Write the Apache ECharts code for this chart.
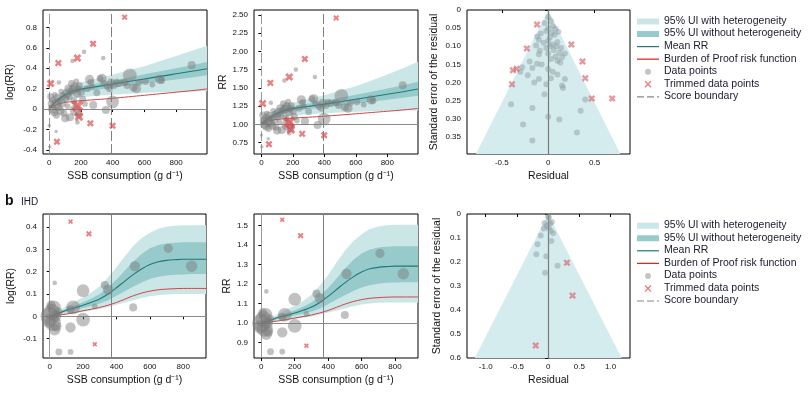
<!DOCTYPE html>
<html><head><meta charset="utf-8">
<script src="https://cdn.jsdelivr.net/npm/echarts@6/dist/echarts.min.js"></script>
<style>html,body{margin:0;padding:0;background:#fff}#c{width:809px;height:394px}</style>
</head><body><div id="c"></div><script>
const F = 'Liberation Sans, Arial, sans-serif';

// ---------- Row a (top) : curves in log(RR) ----------
const aCurveX   = [0, 10, 25, 50, 75, 100, 150, 200, 300, 400, 500, 600, 700, 800, 900, 995];
const aMean     = [0, 0.025, 0.05, 0.085, 0.115, 0.14, 0.175, 0.195, 0.22, 0.245, 0.27, 0.295, 0.32, 0.345, 0.37, 0.395];
const aBop      = [0, 0.012, 0.025, 0.045, 0.057, 0.065, 0.075, 0.082, 0.093, 0.105, 0.12, 0.135, 0.15, 0.165, 0.18, 0.197];
const aInnerLo  = [0, 0.02, 0.04, 0.07, 0.098, 0.12, 0.15, 0.17, 0.19, 0.21, 0.23, 0.25, 0.27, 0.29, 0.31, 0.33];
const aInnerHi  = [0, 0.03, 0.06, 0.10, 0.132, 0.16, 0.20, 0.22, 0.25, 0.28, 0.31, 0.34, 0.37, 0.40, 0.43, 0.46];
const aOuterLo  = [0, 0.012, 0.025, 0.045, 0.065, 0.08, 0.10, 0.115, 0.13, 0.14, 0.15, 0.16, 0.165, 0.17, 0.175, 0.175];
const aOuterHi  = [0, 0.04, 0.075, 0.125, 0.165, 0.2, 0.24, 0.26, 0.30, 0.335, 0.38, 0.42, 0.47, 0.52, 0.57, 0.62];
const aRefX = 390;
// data points: [SSB g/d, log(RR), weight]
const aPoints = [[0,-0.16,3],[3,-0.37,3],[43,-0.22,3],[8,0.12,6],[15,0.05,7],[20,0.0,8],[25,0.09,6],[30,-0.03,7],[35,0.14,5],[40,0.05,9],[45,-0.06,6],[50,0.11,7],[55,0.02,8],[60,0.26,4],[65,0.08,6],[70,-0.02,7],[75,0.17,5],[80,0.06,8],[88,0.13,6],[92,-0.04,6],[100,-0.09,7],[105,0.1,6],[110,0.15,8],[115,0.03,5],[120,0.2,7],[125,0.12,6],[130,-0.08,7],[135,0.17,6],[140,0.25,6],[146,0.47,4],[150,0.19,8],[155,0.08,6],[160,0.22,7],[165,-0.01,10],[170,0.27,5],[175,0.15,7],[177,-0.13,4],[180,0.2,6],[185,-0.05,7],[190,0.23,6],[200,0.17,7],[210,0.1,6],[219,0.56,4],[225,0.05,5],[240,0.2,6],[254,0.29,8],[262,0.26,6],[270,0.22,5],[277,0.04,7],[300,0.16,6],[320,0.3,6],[333,0.3,8],[340,0.5,4],[345,0.25,6],[357,-0.01,7],[365,0.22,6],[380,0.2,6],[390,0.26,7],[399,0.07,11],[410,0.23,6],[425,0.27,5],[440,0.25,6],[460,0.27,4],[475,0.26,6],[490,0.23,6],[508,0.33,12],[530,0.21,7],[550,0.2,8],[565,0.26,6],[607,0.27,6],[650,0.24,5],[696,0.29,8],[709,0.28,6],[898,0.43,7]];
const aTrimmed = [[8,0.25,8],[57,0.45,7],[177,0.50,8],[276,0.64,7],[475,0.90,6],[177,0.03,12],[187,-0.075,9],[259,-0.14,7],[399,-0.163,7],[48,-0.32,7]];
// funnel: [residual, standard error]
const aFunnel = [[0.0,0.02],[0.03,0.03],[-0.04,0.036],[0.05,0.045],[0.0,0.05],[0.08,0.052],[-0.02,0.058],[0.11,0.06],[0.04,0.062],[-0.08,0.065],[0.07,0.068],[-0.12,0.073],[0.02,0.075],[-0.1,0.082],[0.0,0.085],[0.1,0.088],[-0.05,0.09],[0.05,0.095],[-0.13,0.098],[0.02,0.1],[0.09,0.1],[-0.02,0.105],[0.14,0.105],[0.06,0.11],[-0.09,0.112],[0.12,0.118],[0.0,0.12],[-0.1,0.122],[0.18,0.12],[0.08,0.128],[0.15,0.13],[0.03,0.135],[0.1,0.14],[-0.2,0.142],[-0.12,0.148],[-0.07,0.15],[0.13,0.145],[-0.28,0.158],[-0.17,0.16],[0.0,0.163],[0.05,0.17],[-0.3,0.17],[-0.22,0.18],[0.1,0.178],[0.03,0.188],[-0.1,0.19],[0.18,0.19],[-0.15,0.2],[-0.02,0.205],[0.15,0.208],[0.16,0.215],[0.40,0.247],[-0.04,0.232],[-0.4,0.26],[0.35,0.278],[-0.17,0.27],[0.0,0.294],[0.12,0.302],[-0.27,0.316],[0.31,0.338],[-0.17,0.36]];
const aFunnelTrim = [[-0.12,0.04],[0.25,0.095],[-0.23,0.106],[0.37,0.142],[-0.34,0.162],[-0.38,0.166],[0.40,0.188],[-0.39,0.205],[0.47,0.244],[0.69,0.244]];

// ---------- Row b (IHD) ----------
const bCurveX  = [0, 50, 100, 150, 200, 250, 300, 350, 400, 450, 500, 550, 600, 650, 700, 750, 800, 850, 940];
const bMean    = [0, 0.013, 0.027, 0.038, 0.05, 0.063, 0.078, 0.1, 0.128, 0.158, 0.187, 0.212, 0.232, 0.245, 0.251, 0.254, 0.256, 0.256, 0.256];
const bBop     = [0, 0.005, 0.01, 0.017, 0.025, 0.032, 0.04, 0.05, 0.062, 0.077, 0.092, 0.104, 0.113, 0.119, 0.122, 0.124, 0.125, 0.125, 0.125];
const bInnerHi = [0, 0.017, 0.034, 0.048, 0.063, 0.08, 0.1, 0.13, 0.165, 0.205, 0.245, 0.28, 0.305, 0.32, 0.327, 0.33, 0.332, 0.332, 0.332];
const bInnerLo = [0, 0.009, 0.02, 0.028, 0.037, 0.046, 0.057, 0.072, 0.092, 0.113, 0.133, 0.152, 0.167, 0.177, 0.183, 0.187, 0.188, 0.19, 0.19];
const bOuterHi = [0, 0.022, 0.045, 0.065, 0.085, 0.107, 0.135, 0.175, 0.22, 0.27, 0.315, 0.35, 0.375, 0.393, 0.402, 0.406, 0.408, 0.408, 0.408];
const bOuterLo = [0, 0.004, 0.009, 0.014, 0.02, 0.026, 0.033, 0.042, 0.052, 0.062, 0.072, 0.082, 0.09, 0.095, 0.098, 0.1, 0.1, 0.1, 0.1];
const bRefX = 370;
const bPoints = [[0,0,16],[12,0.02,14],[25,0.04,12],[-5,-0.02,12],[20,-0.03,14],[35,0.0,10],[40,-0.045,9],[8,0.05,8],[30,-0.06,10],[50,0.02,8],[30,0.15,4],[140,0.04,12],[125,0.03,7],[200,0.115,11],[200,-0.015,12],[125,-0.05,9],[55,-0.16,6],[125,-0.16,5],[270,0.045,5],[330,0.14,7],[350,0.12,9],[500,0.04,7],[510,0.225,9],[710,0.305,8],[850,0.225,10]];
const bTrimmed = [[125,0.425,5],[235,0.37,6],[270,-0.125,5]];
const bFunnel = [[0.0,0.01],[0.01,0.015],[0.06,0.033],[-0.06,0.037],[0.03,0.04],[-0.02,0.05],[-0.07,0.06],[0.01,0.058],[0.04,0.07],[0.08,0.08],[-0.12,0.09],[0.05,0.113],[-0.17,0.126],[-0.19,0.168],[-0.03,0.176],[0.15,0.216],[-0.05,0.245]];
const bFunnelTrim = [[0.3,0.203],[0.39,0.34],[-0.2,0.548]];

// ---------- tick labels ----------
const xTicks = [0, 200, 400, 600, 800];
const xLabels = ['0', '200', '400', '600', '800'];
const aLogTicks = [-0.4, -0.2, 0, 0.2, 0.4, 0.6, 0.8];
const aLogLabels = ['-0.4', '-0.2', '0', '0.2', '0.4', '0.6', '0.8'];
const aRRTicks = [0.75, 1, 1.25, 1.5, 1.75, 2, 2.25, 2.5];
const aRRLabels = ['0.75', '1.00', '1.25', '1.50', '1.75', '2.00', '2.25', '2.50'];
const aSETicks = [0, 0.05, 0.1, 0.15, 0.2, 0.25, 0.3, 0.35];
const aSELabels = ['0', '0.05', '0.10', '0.15', '0.20', '0.25', '0.30', '0.35'];
const aResTicks = [-0.5, 0, 0.5];
const aResLabels = ['-0.5', '0', '0.5'];
const bLogTicks = [-0.1, 0, 0.1, 0.2, 0.3, 0.4];
const bLogLabels = ['-0.1', '0', '0.1', '0.2', '0.3', '0.4'];
const bRRTicks = [0.9, 1.0, 1.1, 1.2, 1.3, 1.4, 1.5];
const bRRLabels = ['0.9', '1.0', '1.1', '1.2', '1.3', '1.4', '1.5'];
const bSETicks = [0, 0.1, 0.2, 0.3, 0.4, 0.5, 0.6];
const bSELabels = ['0', '0.1', '0.2', '0.3', '0.4', '0.5', '0.6'];
const bResTicks = [-1, -0.5, 0, 0.5, 1];
const bResLabels = ['-1.0', '-0.5', '0', '0.5', '1.0'];
const funnelZ = 1.96;

const legendItems = ['95% UI with heterogeneity', '95% UI without heterogeneity', 'Mean RR', 'Burden of Proof risk function', 'Data points', 'Trimmed data points', 'Score boundary'];

// ---------- styles ----------
const C_OUT = '#cbe6e6', C_IN = '#97cbcb', C_MEAN = '#1f7878', C_BOP = '#d04545';
const C_PT = 'rgba(120,120,120,0.58)', C_TRIM = 'rgba(222,70,70,0.85)';
const C_FUN = '#d5ecef', C_FPT = 'rgba(135,150,155,0.55)', C_FTRIM = 'rgba(214,96,100,0.8)';
const PT_SCALE = 1.15;
const XSYM = 'path://M0,2.4L2.4,0L5,2.6L7.6,0L10,2.4L7.4,5L10,7.6L7.6,10L5,7.4L2.4,10L0,7.6L2.6,5Z';
const ident = v => v, toRR = v => Math.exp(v);

function lab(ticks, labels) {
  return v => { const i = ticks.findIndex(t => Math.abs(t - v) < 1e-9); return i >= 0 ? labels[i] : ''; };
}
function xAx(gi, min, max, ticks, labels, name) {
  return { type: 'value', gridIndex: gi, min, max, name, nameLocation: 'middle', nameGap: 17,
    nameTextStyle: { fontSize: 10.5, color: '#111', fontFamily: F },
    axisLine: { show: false }, splitLine: { show: false },
    axisTick: { show: true, customValues: ticks, length: 3, lineStyle: { color: '#000' } },
    axisLabel: { customValues: ticks, formatter: lab(ticks, labels), fontSize: 8, color: '#111', margin: 5, fontFamily: F } };
}
function yAx(gi, min, max, ticks, labels, name, gap, inverse) {
  return { type: 'value', gridIndex: gi, min, max, inverse: !!inverse, name, nameLocation: 'middle', nameGap: gap,
    nameTextStyle: { fontSize: 10.5, color: '#111', fontFamily: F },
    axisLine: { show: false }, splitLine: { show: false },
    axisTick: { show: true, customValues: ticks, length: 3, lineStyle: { color: '#000' } },
    axisLabel: { customValues: ticks, formatter: lab(ticks, labels), fontSize: 8, color: '#111', margin: 6, fontFamily: F } };
}
function band(gi, xs, lo, hi, tf, color, z) {
  const pts = xs.map((x, i) => [x, tf(lo[i])]).concat(xs.map((x, i) => [x, tf(hi[i])]).reverse());
  return { type: 'custom', xAxisIndex: gi, yAxisIndex: gi, z, silent: true, clip: true,
    data: [[xs[0], tf(lo[0])]],
    renderItem: (p, api) => ({ type: 'polygon', shape: { points: pts.map(q => api.coord(q)) }, style: { fill: color } }) };
}
function curvePanel(gi, xs, mean, bop, inLo, inHi, outLo, outHi, pts, trim, tf, refX, dash) {
  const base = tf(0);
  return [
    band(gi, xs, outLo, outHi, tf, C_OUT, 1),
    band(gi, xs, inLo, inHi, tf, C_IN, 2),
    { type: 'line', xAxisIndex: gi, yAxisIndex: gi, data: [], z: 3, silent: true,
      markLine: { silent: true, symbol: 'none', label: { show: false },
        lineStyle: { color: '#8a8a8a', width: 1, type: 'solid' },
        data: [
          { xAxis: 0, lineStyle: { color: '#9a9a9a', width: 1, type: dash ? [10, 3] : 'solid' } },
          { xAxis: refX, lineStyle: { color: '#808080', width: 1, type: dash ? [10, 3] : 'solid' } },
          { yAxis: base }
        ] } },
    { type: 'line', xAxisIndex: gi, yAxisIndex: gi, z: 4, symbol: 'none', smooth: 0.3, silent: true,
      data: xs.map((x, i) => [x, tf(bop[i])]), lineStyle: { color: C_BOP, width: 1 } },
    { type: 'line', xAxisIndex: gi, yAxisIndex: gi, z: 4, symbol: 'none', smooth: 0.3, silent: true,
      data: xs.map((x, i) => [x, tf(mean[i])]), lineStyle: { color: C_MEAN, width: 1.1 } },
    { type: 'scatter', xAxisIndex: gi, yAxisIndex: gi, z: 5, silent: true,
      data: pts.map(p => [p[0], tf(p[1]), p[2]]), symbolSize: d => d[2] * PT_SCALE,
      itemStyle: { color: C_PT } },
    { type: 'scatter', xAxisIndex: gi, yAxisIndex: gi, z: 6, silent: true,
      data: trim.map(p => [p[0], tf(p[1]), p[2]]), symbol: XSYM, symbolSize: d => d[2],
      itemStyle: { color: C_TRIM } }
  ];
}
function funnelPanel(gi, pts, trim, seMax) {
  return [
    { type: 'custom', xAxisIndex: gi, yAxisIndex: gi, z: 1, silent: true, clip: true,
      data: [[0, 0]],
      renderItem: (p, api) => ({ type: 'polygon', shape: { points: [
        api.coord([0, 0]), api.coord([-funnelZ * seMax, seMax]), api.coord([funnelZ * seMax, seMax])] },
        style: { fill: C_FUN } }) },
    { type: 'line', xAxisIndex: gi, yAxisIndex: gi, data: [], z: 3, silent: true,
      markLine: { silent: true, symbol: 'none', label: { show: false },
        lineStyle: { color: '#7a7a7a', width: 1.2, type: 'solid' }, data: [{ xAxis: 0 }] } },
    { type: 'scatter', xAxisIndex: gi, yAxisIndex: gi, z: 5, silent: true, data: pts, symbolSize: 6,
      itemStyle: { color: C_FPT } },
    { type: 'scatter', xAxisIndex: gi, yAxisIndex: gi, z: 6, silent: true, data: trim, symbol: XSYM, symbolSize: 7,
      itemStyle: { color: C_FTRIM } }
  ];
}
function legend(y0) {
  const els = [], step = 12.55, x0 = 637, x1 = 659, tx = 664;
  legendItems.forEach((t, i) => {
    const y = y0 + i * step;
    els.push({ type: 'text', left: tx, top: y - 6, style: { text: t, fontSize: 10.5, fill: '#1b1b2b', fontFamily: F } });
  });
  let y = y0;
  els.push({ type: 'rect', shape: { x: x0, y: y - 3, width: x1 - x0, height: 6 }, style: { fill: C_OUT } }); y += step;
  els.push({ type: 'rect', shape: { x: x0, y: y - 3, width: x1 - x0, height: 6 }, style: { fill: C_IN } }); y += step;
  els.push({ type: 'line', shape: { x1: x0, y1: y, x2: x1, y2: y }, style: { stroke: C_MEAN, lineWidth: 1.2 } }); y += step;
  els.push({ type: 'line', shape: { x1: x0, y1: y, x2: x1, y2: y }, style: { stroke: '#e01818', lineWidth: 1.2 } }); y += step;
  els.push({ type: 'circle', shape: { cx: (x0 + x1) / 2, cy: y, r: 3 }, style: { fill: '#c4c4c4' } }); y += step;
  els.push({ type: 'line', shape: { x1: 645, y1: y - 3, x2: 651, y2: y + 3 }, style: { stroke: '#f07c7c', lineWidth: 1.3 } });
  els.push({ type: 'line', shape: { x1: 645, y1: y + 3, x2: 651, y2: y - 3 }, style: { stroke: '#f07c7c', lineWidth: 1.3 } }); y += step;
  els.push({ type: 'line', shape: { x1: x0, y1: y, x2: x1, y2: y }, style: { stroke: '#888', lineWidth: 1.2, lineDash: [7, 3] } });
  return els;
}

const grids = [
  { left: 43, top: 10, width: 164, height: 144 },
  { left: 254, top: 10, width: 164, height: 144 },
  { left: 467, top: 10, width: 163, height: 144 },
  { left: 43, top: 214, width: 163, height: 144 },
  { left: 254, top: 214, width: 164, height: 144 },
  { left: 467, top: 214, width: 163, height: 144 }
].map(g => Object.assign(g, { show: true, borderColor: '#000', borderWidth: 1, backgroundColor: 'transparent', containLabel: false }));

const xName = 'SSB consumption (g d\u207B\u00B9)';
const option = {
  animation: false,
  backgroundColor: '#fff',
  grid: grids,
  xAxis: [
    xAx(0, -40, 995, xTicks, xLabels, xName),
    xAx(1, -47, 995, xTicks, xLabels, xName),
    xAx(2, -0.875, 0.882, aResTicks, aResLabels, 'Residual'),
    xAx(3, -40, 936, xTicks, xLabels, xName),
    xAx(4, -44, 938, xTicks, xLabels, xName),
    xAx(5, -1.30, 1.31, bResTicks, bResLabels, 'Residual')
  ],
  yAxis: [
    yAx(0, -0.44, 0.97, aLogTicks, aLogLabels, 'log(RR)', 27),
    yAx(1, 0.593, 2.568, aRRTicks, aRRLabels, 'RR', 24),
    yAx(2, 0, 0.397, aSETicks, aSELabels, 'Standard error of the residual', 27, true),
    yAx(3, -0.187, 0.459, bLogTicks, bLogLabels, 'log(RR)', 26),
    yAx(4, 0.82, 1.559, bRRTicks, bRRLabels, 'RR', 20),
    yAx(5, 0, 0.6, bSETicks, bSELabels, 'Standard error of the residual', 24, true)
  ],
  series: [].concat(
    curvePanel(0, aCurveX, aMean, aBop, aInnerLo, aInnerHi, aOuterLo, aOuterHi, aPoints, aTrimmed, ident, aRefX, true),
    curvePanel(1, aCurveX, aMean, aBop, aInnerLo, aInnerHi, aOuterLo, aOuterHi, aPoints, aTrimmed, toRR, aRefX, true),
    funnelPanel(2, aFunnel, aFunnelTrim, 0.397),
    curvePanel(3, bCurveX, bMean, bBop, bInnerLo, bInnerHi, bOuterLo, bOuterHi, bPoints, bTrimmed, ident, bRefX, false),
    curvePanel(4, bCurveX, bMean, bBop, bInnerLo, bInnerHi, bOuterLo, bOuterHi, bPoints, bTrimmed, toRR, bRefX, false),
    funnelPanel(5, bFunnel, bFunnelTrim, 0.6)
  ),
  graphic: [].concat(
    [{ type: 'text', left: 5, top: 194, style: { text: 'b', fontSize: 14, fontWeight: 'bold', fill: '#111', fontFamily: F } },
     { type: 'text', left: 21, top: 197, style: { text: 'IHD', fontSize: 10, fill: '#1b1b2b', fontFamily: F } }],
    legend(21.5),
    legend(225.7)
  )
};
const chart = echarts.init(document.getElementById('c'), null, { renderer: 'canvas' });
chart.setOption(option);
</script></body></html>
